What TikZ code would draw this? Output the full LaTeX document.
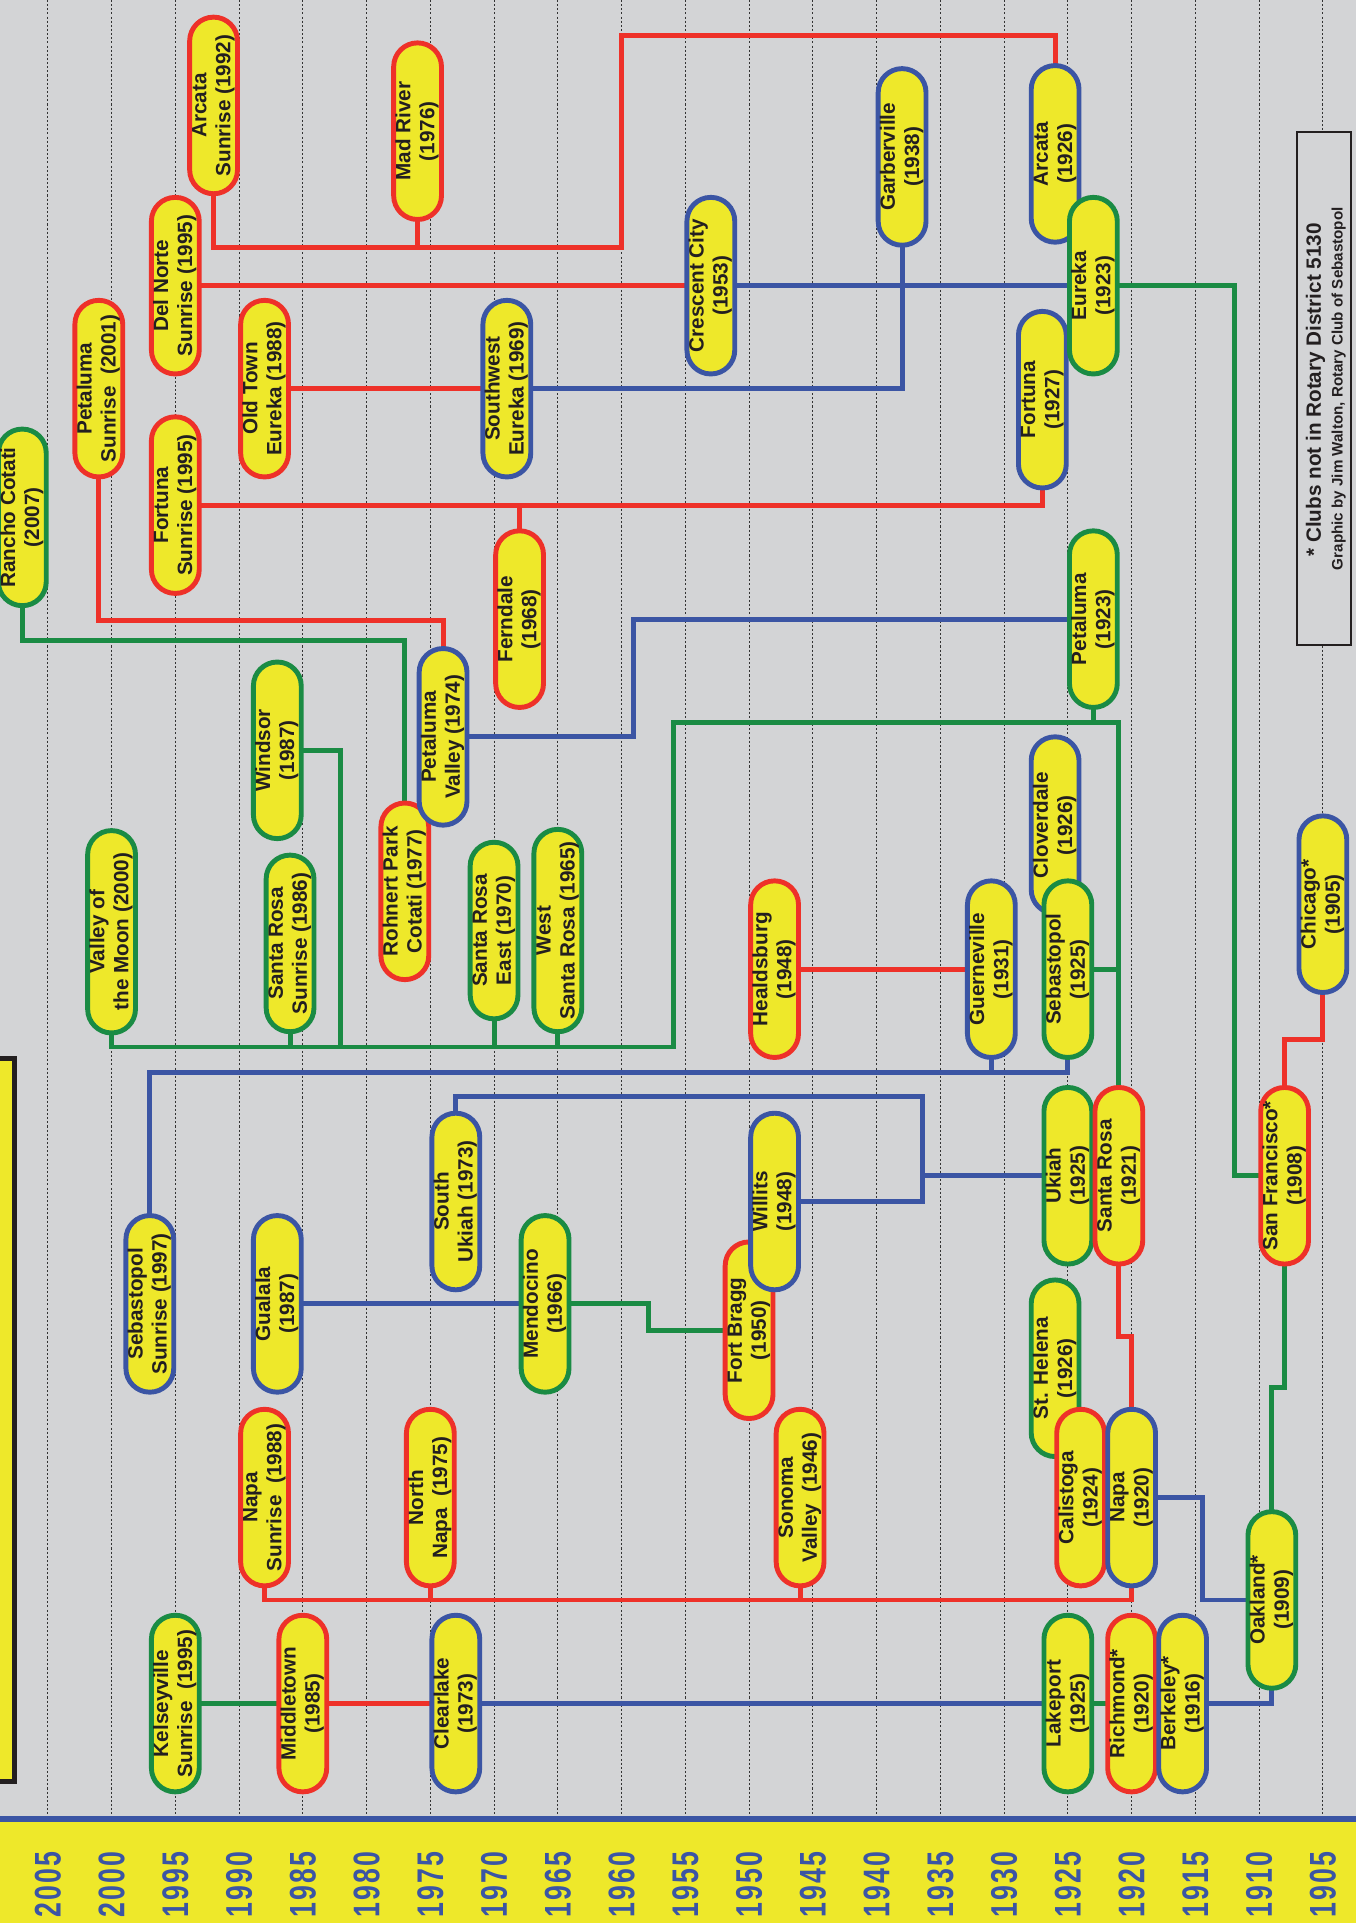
\documentclass[tikz,border=0pt]{standalone}
\usepackage{fontspec}
\setmainfont{Liberation Sans}
\newfontfamily\yearfont[FakeStretch=0.72,LetterSpace=5.5]{Liberation Sans}
\usepackage{tikz}
\usetikzlibrary{backgrounds}

\definecolor{paper}{HTML}{D3D4D6}
\definecolor{clubyellow}{HTML}{EEE82A}
\definecolor{rotred}{HTML}{EE3129}
\definecolor{rotblue}{HTML}{3B55A4}
\definecolor{rotgreen}{HTML}{1A8B44}
\definecolor{ink}{HTML}{231F20}

\newcommand\clubtext[2]{\makebox[0pt]{\smash{\raisebox{-.5\height}{\rotatebox{90}{\begin{tabular}{@{}c@{}}#1\\#2\end{tabular}}}}}}
\newcommand\nonmember{*}

\tikzset{
  club/.style={draw=#1, fill=clubyellow, line width=1mm, rounded corners=4.85mm,
    minimum width=9.75mm, minimum height=36mm, inner sep=0pt, text=ink,
    font=\bfseries\fontsize{12}{14}\selectfont},
  longclub/.style={club=#1, minimum height=41.25mm},
  link/.style={draw=#1, line width=1mm, line cap=rect},
  gridline/.style={draw=black!80, line width=0.45pt, dash pattern=on 1.2pt off 1.2pt},
  yearlabel/.style={rotate=90, inner sep=0pt, text=rotblue,
    font=\yearfont\bfseries\fontsize{21.5}{21.5}\selectfont},
  note/.style={rotate=90, inner sep=0pt, text=ink}
}

\begin{document}
\begin{tikzpicture}[x=0.025cm,y=-0.025cm,declare function={yr(\t)=39+(2005-\t)*10.4;}]
\path[use as bounding box] (0,0) rectangle (1106,1568.5);
\clip (0,0) rectangle (1106,1568.5);

\begin{scope}[on background layer]
\fill[paper] (0,0) rectangle (1106,1568.5);
\foreach \y in {1905,1910,...,2005}
  \draw[gridline] ({yr(\y)},0) -- ({yr(\y)},1481);
\end{scope}

\fill[rotblue] (0,1481.5) rectangle (1106,1486.5);
\fill[clubyellow] (0,1486.5) rectangle (1106,1568.5);
\foreach \y in {1905,1910,...,2005}
  \node[yearlabel] (yl\y) at ({yr(\y)},1537) {\y};

\draw[draw=ink, fill=clubyellow, line width=1mm] (-40,863) rectangle (11.5,1453);

\node[draw=ink, fill=paper, line width=0.4mm, minimum width=11.1mm, minimum height=104.5mm, inner sep=0pt] (notebox) at (1080,317) {};
\node[note, font=\bfseries\fontsize{12}{14}\selectfont] (notetitle) at (1073,318) {* Clubs not in Rotary District 5130};
\node[note, font=\bfseries\fontsize{8.8}{10}\selectfont] (notecredit) at (1092,317) {Graphic by Jim Walton, Rotary Club of Sebastopol};

\node[club=rotgreen] (ranchocotati) at ({yr(2007)},422) {\clubtext{Rancho Cotati}{(2007)}};
\node[club=rotred] (petalumasr) at ({yr(2001)},317) {\clubtext{Petaluma}{Sunrise\ \ (2001)}};
\node[club=rotred] (delnortesr) at ({yr(1995)},233) {\clubtext{Del Norte}{Sunrise (1995)}};
\node[club=rotred] (fortunasr) at ({yr(1995)},412) {\clubtext{Fortuna}{Sunrise (1995)}};
\node[club=rotred] (arcatasr) at ({yr(1992)},86) {\clubtext{Arcata}{Sunrise (1992)}};
\node[club=rotred] (oldtown) at ({yr(1988)},317) {\clubtext{Old Town}{Eureka (1988)}};
\node[club=rotred] (madriver) at ({yr(1976)},107) {\clubtext{Mad River}{(1976)}};
\node[club=rotblue] (sweureka) at ({yr(1969)},317) {\clubtext{Southwest}{Eureka (1969)}};
\node[club=rotred] (ferndale) at ({yr(1968)},505) {\clubtext{Ferndale}{(1968)}};
\node[club=rotblue] (crescent) at ({yr(1953)},233) {\clubtext{Crescent City}{(1953)}};
\node[club=rotblue] (garberville) at ({yr(1938)},128) {\clubtext{Garberville}{(1938)}};
\node[club=rotblue] (arcata) at ({yr(1926)},125.5) {\clubtext{Arcata}{(1926)}};
\node[club=rotblue] (fortuna) at ({yr(1927)},326) {\clubtext{Fortuna}{(1927)}};
\node[club=rotgreen] (eureka) at ({yr(1923)},233) {\clubtext{Eureka}{(1923)}};
\node[club=rotgreen] (petaluma) at ({yr(1923)},505) {\clubtext{Petaluma}{(1923)}};

\node[club=rotgreen] (windsor) at ({yr(1987)},612) {\clubtext{Windsor}{(1987)}};
\node[club=rotred] (rohnert) at ({yr(1977)},727) {\clubtext{Rohnert Park}{Cotati (1977)}};
\node[club=rotblue] (petvalley) at ({yr(1974)},601) {\clubtext{Petaluma}{Valley (1974)}};
\node[longclub=rotgreen] (valleymoon) at ({yr(2000)},760) {\clubtext{Valley of}{the Moon (2000)}};
\node[club=rotgreen] (srsunrise) at ({yr(1986)},769.5) {\clubtext{Santa Rosa}{Sunrise (1986)}};
\node[club=rotgreen] (sreast) at ({yr(1970)},759) {\clubtext{Santa Rosa}{East (1970)}};
\node[longclub=rotgreen] (westsr) at ({yr(1965)},759) {\clubtext{West}{Santa Rosa (1965)}};
\node[club=rotred] (healdsburg) at ({yr(1948)},790.5) {\clubtext{Healdsburg}{(1948)}};
\node[club=rotblue] (guerneville) at ({yr(1931)},790.5) {\clubtext{Guerneville}{(1931)}};
\node[club=rotblue] (cloverdale) at ({yr(1926)},673) {\clubtext{Cloverdale}{(1926)}};
\node[club=rotgreen] (sebastopol) at ({yr(1925)},790.5) {\clubtext{Sebastopol}{(1925)}};
\node[club=rotblue] (chicago) at ({yr(1905)},737.5) {\clubtext{Chicago\nonmember}{(1905)}};

\node[club=rotgreen] (ukiah) at ({yr(1925)},959) {\clubtext{Ukiah}{(1925)}};
\node[club=rotred] (santarosa) at ({yr(1921)},959) {\clubtext{Santa Rosa}{(1921)}};
\node[club=rotred] (sanfrancisco) at ({yr(1908)},959) {\clubtext{San Francisco\nonmember}{(1908)}};
\node[club=rotblue] (southukiah) at ({yr(1973)},980) {\clubtext{South}{Ukiah (1973)}};
\node[club=rotred] (fortbragg) at ({yr(1950)},1085) {\clubtext{Fort Bragg}{(1950)}};
\node[club=rotblue] (willits) at ({yr(1948)},980) {\clubtext{Willits}{(1948)}};
\node[club=rotgreen] (mendocino) at ({yr(1966)},1063.5) {\clubtext{Mendocino}{(1966)}};
\node[club=rotblue] (gualala) at ({yr(1987)},1063.5) {\clubtext{Gualala}{(1987)}};
\node[club=rotblue] (sebsunrise) at ({yr(1997)},1063.5) {\clubtext{Sebastopol}{Sunrise (1997)}};

\node[club=rotgreen] (sthelena) at ({yr(1926)},1116) {\clubtext{St. Helena}{(1926)}};
\node[club=rotred] (calistoga) at ({yr(1924)},1221.5) {\clubtext{Calistoga}{(1924)}};
\node[club=rotblue] (napa) at ({yr(1920)},1221.5) {\clubtext{Napa}{(1920)}};
\node[club=rotred] (napasr) at ({yr(1988)},1221.5) {\clubtext{Napa}{Sunrise\ \ (1988)}};
\node[club=rotred] (northnapa) at ({yr(1975)},1221.5) {\clubtext{North}{Napa\ \ (1975)}};
\node[club=rotred] (sonoma) at ({yr(1946)},1221.5) {\clubtext{Sonoma}{Valley\ \ (1946)}};
\node[club=rotgreen] (oakland) at ({yr(1909)},1305) {\clubtext{Oakland\nonmember}{(1909)}};

\node[club=rotgreen] (kelseyville) at ({yr(1995)},1389.5) {\clubtext{Kelseyville}{Sunrise\ \ (1995)}};
\node[club=rotred] (middletown) at ({yr(1985)},1389.5) {\clubtext{Middletown}{(1985)}};
\node[club=rotblue] (clearlake) at ({yr(1973)},1389.5) {\clubtext{Clearlake}{(1973)}};
\node[club=rotgreen] (lakeport) at ({yr(1925)},1389.5) {\clubtext{Lakeport}{(1925)}};
\node[club=rotred] (richmond) at ({yr(1920)},1389.5) {\clubtext{Richmond\nonmember}{(1920)}};
\node[club=rotblue] (berkeley) at ({yr(1916)},1389.5) {\clubtext{Berkeley\nonmember}{(1916)}};

\begin{scope}[on background layer]
\draw[link=rotred] (arcatasr.south) |- (507,202) -- (507,29) -| (arcata.north);
\draw[link=rotred] (madriver.south) -- (madriver.south |- 0,202);
\draw[link=rotred] (delnortesr.east) -- (crescent.west);
\draw[link=rotred] (oldtown.east) -- (sweureka.west);
\draw[link=rotred] (fortunasr.east) -| (fortuna.south);
\draw[link=rotred] (ferndale.north) -- (ferndale.north |- fortunasr.east);
\draw[link=rotred] (petalumasr.south) -- (petalumasr.south |- 0,506) -| (petvalley.north);
\draw[link=rotred] (healdsburg.east) -- (guerneville.west);
\draw[link=rotred] (santarosa.south) -- (santarosa.south |- 0,1090) -| (napa.north);
\draw[link=rotred] (napasr.south) -- (napasr.south |- 0,1305) -| (napa.south);
\draw[link=rotred] (northnapa.south) -- (northnapa.south |- 0,1305);
\draw[link=rotred] (sonoma.south) -- (sonoma.south |- 0,1305);
\draw[link=rotred] (middletown.east) -- (clearlake.west);
\draw[link=rotred] (sanfrancisco.north) -- (sanfrancisco.north |- 0,848) -| (chicago.south);

\draw[link=rotblue] (crescent.east) -- (eureka.west);
\draw[link=rotblue] (garberville.south) |- (sweureka.east);
\draw[link=rotblue] (petvalley.east) -| (petaluma.west -| 517,0) -- (petaluma.west);
\draw[link=rotblue] (sebastopol.south) -- (sebastopol.south |- 0,874.5) -| (sebsunrise.north);
\draw[link=rotblue] (guerneville.south) -- (guerneville.south |- 0,874.5);
\draw[link=rotblue] (southukiah.north) |- (752.5,894.5) |- (willits.east);
\draw[link=rotblue] (ukiah.west) -- (ukiah.west -| 752.5,0);
\draw[link=rotblue] (gualala.east) -- (mendocino.west);
\draw[link=rotblue] (clearlake.east) -- (lakeport.west);
\draw[link=rotblue] (napa.east) -| (oakland.west -| 980.6,0) -- (oakland.west);
\draw[link=rotblue] (berkeley.east) -| (oakland.south);

\draw[link=rotgreen] (ranchocotati.south) -- (ranchocotati.south |- 0,522.5) -| (rohnert.north);
\draw[link=rotgreen] (santarosa.north) |- (549,589.5) -- (549,854) -| (valleymoon.south);
\draw[link=rotgreen] (petaluma.south) -- (petaluma.south |- 0,589.5);
\draw[link=rotgreen] (sebastopol.east) -- (sebastopol.east -| santarosa.north);
\draw[link=rotgreen] (windsor.east) -| (277.8,854);
\draw[link=rotgreen] (srsunrise.south) -- (srsunrise.south |- 0,854);
\draw[link=rotgreen] (sreast.south) -- (sreast.south |- 0,854);
\draw[link=rotgreen] (westsr.south) -- (westsr.south |- 0,854);
\draw[link=rotgreen] (mendocino.east) -| (fortbragg.west -| 528.7,0) -- (fortbragg.west);
\draw[link=rotgreen] (kelseyville.east) -- (middletown.west);
\draw[link=rotgreen] (lakeport.east) -- (richmond.west);
\draw[link=rotgreen] (eureka.east) -| (sanfrancisco.west -| 1006.6,0) -- (sanfrancisco.west);
\draw[link=rotgreen] (oakland.north) -- (oakland.north |- 0,1132) -| (sanfrancisco.south);
\end{scope}
\end{tikzpicture}
\end{document}
